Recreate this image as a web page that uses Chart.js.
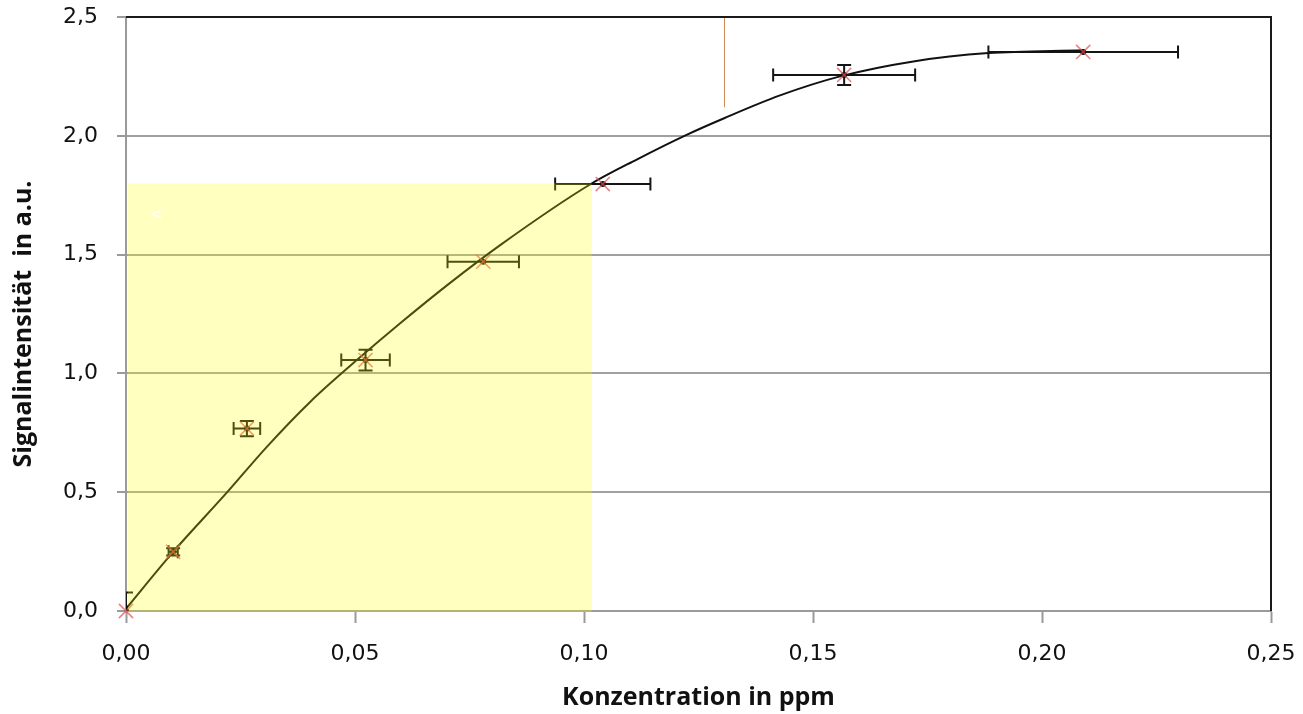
<!DOCTYPE html>
<html>
<head>
<meta charset="utf-8">
<script src="https://cdn.jsdelivr.net/npm/chart.js@4.4.1/dist/chart.umd.min.js"></script>
<style>
  html, body { margin: 0; padding: 0; background: #ffffff; }
  #wrap { width: 1303px; height: 714px; }
</style>
</head>
<body>
<div id="wrap"><canvas id="c" width="1303" height="714"></canvas></div>
<script>
// ---- data ----
const concentration = [0, 0.0103, 0.0264, 0.0523, 0.0780, 0.1041, 0.1568, 0.2090];
const signal        = [0, 0.249, 0.768, 1.056, 1.470, 1.797, 2.256, 2.353];
const concErr       = [0, 0.0010, 0.0029, 0.0053, 0.0078, 0.0104, 0.0155, 0.0207];
const signalErr     = [0.078, 0.015, 0.032, 0.044, 0, 0, 0.042, 0];

// fitted calibration curve
const curveX = [0, 0.0103, 0.022, 0.0307, 0.0402, 0.0504, 0.0598, 0.0707, 0.0817, 0.1013, 0.1115, 0.1224, 0.1306, 0.1428, 0.1559, 0.1719, 0.1883, 0.209];
const curveY = [0.01, 0.249, 0.498, 0.69, 0.88, 1.056, 1.21, 1.38, 1.54, 1.795, 1.90, 2.004, 2.074, 2.17, 2.25, 2.313, 2.348, 2.36];

// highlighted (linear) range
const boxX = [0.0004, 0.1017];
const boxY = [0, 1.8];
// thin vertical marker line
const markX = 0.1305;
const markY = [2.12, 2.5];
// stray glyph in the highlighted box
const glyphText = "<";
const glyphPos = [0.0066, 1.667];

const xTicks = [0, 0.05, 0.10, 0.15, 0.20, 0.25];
const yTicks = [0, 0.5, 1.0, 1.5, 2.0, 2.5];
const xTitle = "Konzentration in ppm";
const yTitle = "Signalintensität  in a.u.";

// ---- plugins ----
const errorBars = {
  id: 'errorBars',
  beforeDatasetsDraw(chart) {
    const { ctx, chartArea: a, scales: { x, y } } = chart;
    ctx.save();
    ctx.beginPath();
    ctx.rect(a.left, a.top, a.right - a.left, a.bottom - a.top);
    ctx.clip();
    ctx.strokeStyle = '#151515';
    ctx.lineWidth = 2;
    for (let i = 0; i < concentration.length; i++) {
      const px = x.getPixelForValue(concentration[i]);
      const py = y.getPixelForValue(signal[i]);
      if (concErr[i] > 0) {
        const x1 = x.getPixelForValue(concentration[i] - concErr[i]);
        const x2 = x.getPixelForValue(concentration[i] + concErr[i]);
        ctx.beginPath();
        ctx.moveTo(x1, py); ctx.lineTo(x2, py);
        ctx.moveTo(x1, py - 6.5); ctx.lineTo(x1, py + 6.5);
        ctx.moveTo(x2, py - 6.5); ctx.lineTo(x2, py + 6.5);
        ctx.stroke();
      }
      if (signalErr[i] > 0) {
        const y1 = y.getPixelForValue(signal[i] - signalErr[i]);
        const y2 = y.getPixelForValue(signal[i] + signalErr[i]);
        ctx.beginPath();
        ctx.moveTo(px, y1); ctx.lineTo(px, y2);
        ctx.moveTo(px - 7, y1); ctx.lineTo(px + 7, y1);
        ctx.moveTo(px - 7, y2); ctx.lineTo(px + 7, y2);
        ctx.stroke();
      }
    }
    ctx.restore();
  }
};

const overlay = {
  id: 'overlay',
  afterDatasetsDraw(chart) {
    const { ctx, scales: { x, y } } = chart;
    ctx.save();
    // translucent yellow range box
    const x1 = x.getPixelForValue(boxX[0]);
    const x2 = x.getPixelForValue(boxX[1]);
    const y1 = y.getPixelForValue(boxY[1]);
    const y2 = y.getPixelForValue(boxY[0]) + 1;
    ctx.fillStyle = 'rgba(255,255,0,0.25)';
    ctx.fillRect(x1, y1, x2 - x1, y2 - y1);
    // glyph
    ctx.fillStyle = '#ffffff';
    ctx.font = '16px "DejaVu Sans"';
    ctx.textAlign = 'center';
    ctx.textBaseline = 'middle';
    ctx.fillText(glyphText, x.getPixelForValue(glyphPos[0]), y.getPixelForValue(glyphPos[1]));
    // thin orange marker line
    const mx = Math.round(x.getPixelForValue(markX)) + 0.5;
    ctx.strokeStyle = '#d08a55';
    ctx.lineWidth = 1;
    ctx.beginPath();
    ctx.moveTo(mx, y.getPixelForValue(markY[1]));
    ctx.lineTo(mx, y.getPixelForValue(markY[0]));
    ctx.stroke();
    // black top and right frame
    const a = chart.chartArea;
    ctx.strokeStyle = '#1a1a1a';
    ctx.lineWidth = 2;
    ctx.beginPath();
    ctx.moveTo(a.left, a.top);
    ctx.lineTo(a.right, a.top);
    ctx.lineTo(a.right, a.bottom);
    ctx.stroke();
    ctx.restore();
  },
  afterDraw(chart) {
    // y-axis title, placed as in the reference
    const { ctx } = chart;
    ctx.save();
    ctx.translate(24, 324);
    ctx.rotate(-Math.PI / 2);
    ctx.fillStyle = '#111111';
    ctx.font = 'bold 25px "Open Sans"';
    ctx.textAlign = 'center';
    ctx.textBaseline = 'middle';
    ctx.fillText(yTitle, 0, 0);
    ctx.restore();
  }
};

const fmt = (v, d) => v.toFixed(d).replace('.', ',');

new Chart(document.getElementById('c'), {
  type: 'scatter',
  data: {
    datasets: [
      {
        label: 'Messwerte',
        data: concentration.map((v, i) => ({ x: v, y: signal[i] })),
        pointStyle: 'crossRot',
        pointRadius: 10,
        pointBorderWidth: 1.6,
        borderColor: 'rgba(222,80,80,0.7)',
        backgroundColor: 'rgba(222,80,80,0.7)',
        showLine: false,
        clip: false,
        order: 1
      },
      {
        label: 'Punkte',
        data: concentration.map((v, i) => ({ x: v, y: signal[i] })),
        pointStyle: 'circle',
        pointRadius: 3,
        pointBorderWidth: 0,
        backgroundColor: '#111111',
        borderColor: '#111111',
        showLine: false,
        order: 2
      },
      {
        label: 'Kalibrierkurve',
        data: curveX.map((v, i) => ({ x: v, y: curveY[i] })),
        showLine: true,
        pointRadius: 0,
        borderColor: '#111111',
        borderWidth: 2,
        cubicInterpolationMode: 'monotone',
        fill: false,
        order: 3
      }
    ]
  },
  options: {
    responsive: false,
    animation: false,
    devicePixelRatio: 1,
    layout: { padding: { top: 17, right: 32, left: 0, bottom: 0 } },
    plugins: { legend: { display: false }, tooltip: { enabled: false } },
    scales: {
      x: {
        type: 'linear',
        min: 0, max: 0.25,
        afterBuildTicks: (s) => { s.ticks = xTicks.map(v => ({ value: v })); },
        afterFit: (s) => { s.height = 103; s.paddingLeft = 0; s.paddingRight = 0; },
        ticks: {
          callback: (v) => fmt(v, 2),
          color: '#111111',
          font: { family: '"DejaVu Sans"', size: 22 },
          padding: 18,
          maxRotation: 0
        },
        grid: { drawOnChartArea: false, drawTicks: true, tickLength: 12, tickColor: '#9a9a9a', tickWidth: 2 },
        border: { display: true, color: '#9a9a9a', width: 2 },
        title: {
          display: true, text: xTitle, color: '#111111',
          font: { family: '"Open Sans"', size: 25, weight: 'bold' },
          padding: { top: 0, bottom: 1 }
        }
      },
      y: {
        type: 'linear',
        min: 0, max: 2.5,
        afterBuildTicks: (s) => { s.ticks = yTicks.map(v => ({ value: v })); },
        afterFit: (s) => { s.width = 126; s.paddingTop = 0; s.paddingBottom = 0; },
        ticks: {
          callback: (v) => fmt(v, 1),
          color: '#111111',
          font: { family: '"DejaVu Sans"', size: 22 },
          padding: 19
        },
        grid: { color: '#a0a0a0', lineWidth: 2, drawTicks: true, tickLength: 9, tickColor: '#9a9a9a', tickWidth: 2 },
        border: { display: true, color: '#9a9a9a', width: 2 },
        title: { display: false }
      }
    }
  },
  plugins: [errorBars, overlay]
});
</script>
</body>
</html>
